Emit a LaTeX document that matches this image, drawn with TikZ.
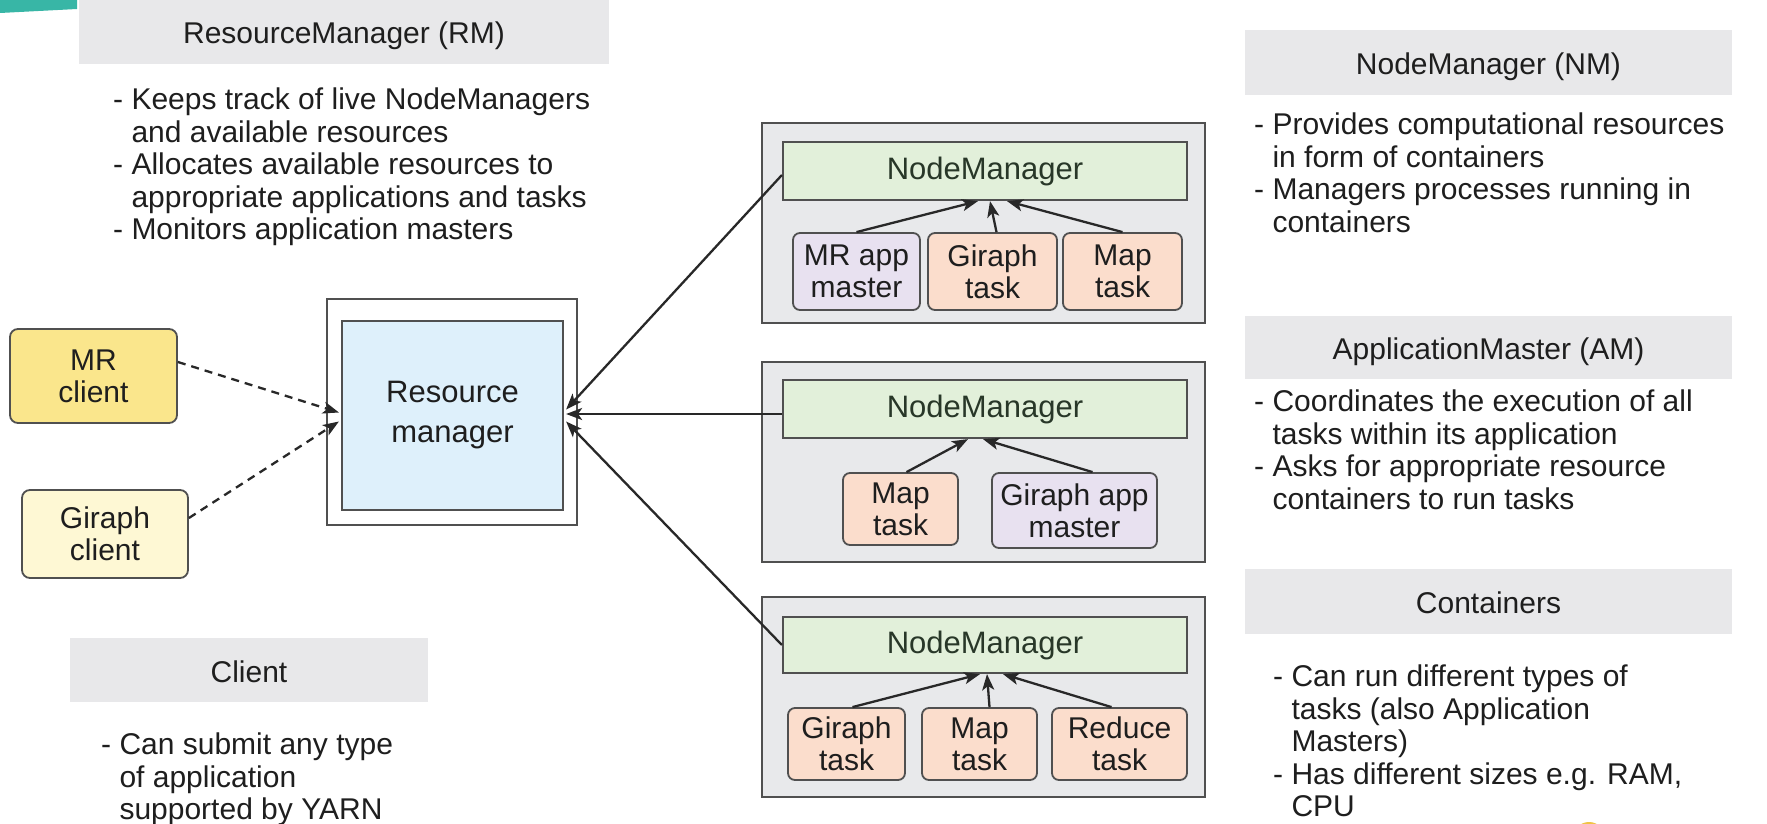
\documentclass[tikz,border=0pt]{standalone}
\usepackage{fontspec}
\setmainfont{Liberation Sans}
\usetikzlibrary{arrows.meta,calc}
\definecolor{hdrgray}{RGB}{232,232,234}
\definecolor{contgray}{RGB}{232,233,235}
\definecolor{bdr}{RGB}{80,80,80}
\definecolor{txt}{RGB}{30,30,30}
\definecolor{nmgreen}{RGB}{226,240,218}
\definecolor{nmtxt}{RGB}{40,55,40}
\definecolor{peach}{RGB}{251,221,204}
\definecolor{lavender}{RGB}{232,225,240}
\definecolor{mryellow}{RGB}{250,230,140}
\definecolor{gryellow}{RGB}{254,248,212}
\definecolor{rmblue}{RGB}{222,240,251}
\definecolor{tealdeco}{RGB}{56,182,166}
\definecolor{orangedeco}{RGB}{240,195,70}
\definecolor{arrcol}{RGB}{40,40,40}
\begin{document}
\begin{tikzpicture}[x=1pt,y=-1pt,
  hdr/.style={fill=hdrgray, inner sep=0, text height=24pt, text depth=0pt, font=\fontsize{30}{33}\selectfont, text=txt},
  bul/.style={anchor=north west, inner sep=0, align=left, font=\fontsize{30}{32.5}\selectfont, text=txt},
  cont/.style={draw=bdr, line width=2.2pt, fill=contgray, inner sep=0},
  nmbox/.style={draw=bdr, line width=2.2pt, fill=nmgreen, inner sep=0, font=\fontsize{31}{33}\selectfont, text=nmtxt},
  task/.style={draw=bdr, line width=1.8pt, rounded corners=7pt, fill=peach, inner sep=0, align=center, font=\fontsize{30}{32}\selectfont, text=txt},
  amst/.style={task, fill=lavender},
  client/.style={draw=bdr, line width=1.8pt, rounded corners=8pt, align=center, inner sep=0, font=\fontsize{30}{32}\selectfont, text=txt},
  arr/.style={-{Stealth[length=16pt,width=12pt,inset=4pt]}, line width=2.3pt, draw=arrcol},
  darr/.style={arr, dash pattern=on 8pt off 6pt}
]
\useasboundingbox (0,0) rectangle (1767,824);
\fill[white] (0,0) rectangle (1767,824);
% decorations
\fill[tealdeco] (0,0) -- (77,0) -- (77,9) -- (0,13) -- cycle;
\fill[orangedeco] (1589,838) circle (16);

% headers
\node[hdr, minimum width=530, minimum height=64] (hrm) at (344,32) {ResourceManager (RM)};
\node[hdr, minimum width=487, minimum height=65] (hnm) at (1488.5,62.5) {NodeManager (NM)};
\node[hdr, minimum width=487, minimum height=63] (ham) at (1488.5,347.5) {ApplicationMaster (AM)};
\node[hdr, minimum width=487, minimum height=65] (hco) at (1488.5,601.5) {Containers};
\node[hdr, minimum width=358, minimum height=64] (hcl) at (249,670) {Client};

% bullet texts
\node[bul] (brm) at (113,88) {- Keeps track of live NodeManagers\\\hphantom{- }and available resources\\- Allocates available resources to\\\hphantom{- }appropriate applications and tasks\\- Monitors application masters};
\node[bul] (bnm) at (1254,113) {- Provides computational resources\\\hphantom{- }in form of containers\\- Managers processes running in\\\hphantom{- }containers};
\node[bul] (bam) at (1254,390) {- Coordinates the execution of all\\\hphantom{- }tasks within its application\\- Asks for appropriate resource\\\hphantom{- }containers to run tasks};
\node[bul] (bco) at (1273,665) {- Can run different types of\\\hphantom{- }tasks (also Application\\\hphantom{- }Masters)\\- Has different sizes e.g. RAM,\\\hphantom{- }CPU};
\node[bul] (bcl) at (101,733) {- Can submit any type\\\hphantom{- }of application\\\hphantom{- }supported by YARN};

% clients
\node[client, fill=mryellow, minimum width=167, minimum height=94] (mr) at (93.5,376) {MR\\client};
\node[client, fill=gryellow, minimum width=166, minimum height=88] (gc) at (105,534) {Giraph\\client};

% resource manager
\node[draw=bdr, line width=2.2pt, fill=white, minimum width=250, minimum height=226, inner sep=0] (rmo) at (452,412) {};
\node[draw=bdr, line width=2.2pt, fill=rmblue, minimum width=221, minimum height=189, inner sep=0, align=center, font=\fontsize{31}{40}\selectfont, text=txt] (rm) at (452.5,415.5) {Resource\\manager};

% container boxes
\node[cont, minimum width=443, minimum height=200] (c1) at (983.5,223) {};
\node[cont, minimum width=443, minimum height=200] (c2) at (983.5,462) {};
\node[cont, minimum width=443, minimum height=200] (c3) at (983.5,697) {};

\node[nmbox, minimum width=404, minimum height=58] (nm1) at (985,171) {NodeManager};
\node[nmbox, minimum width=404, minimum height=58] (nm2) at (985,409) {NodeManager};
\node[nmbox, minimum width=404, minimum height=56] (nm3) at (985,645) {NodeManager};

\node[amst, minimum width=127, minimum height=77] (t11) at (856.5,271.5) {MR app\\master};
\node[task, minimum width=129, minimum height=77] (t12) at (992.5,271.5) {Giraph\\task};
\node[task, minimum width=119, minimum height=77] (t13) at (1122.5,271.5) {Map\\task};

\node[task, minimum width=115, minimum height=72] (t21) at (900.5,509) {Map\\task};
\node[amst, minimum width=165, minimum height=75] (t22) at (1074.5,510.5) {Giraph app\\master};

\node[task, minimum width=117, minimum height=72] (t31) at (846.5,744) {Giraph\\task};
\node[task, minimum width=115, minimum height=72] (t32) at (979.5,744) {Map\\task};
\node[task, minimum width=135, minimum height=72] (t33) at (1119.5,744) {Reduce\\task};

% internal arrows
\draw[arr] (t11.north) -- ($(nm1.south)+(-7,0)$);
\draw[arr] ($(t12.north)+(4,0)$) -- ($(nm1.south)+(5,0)$);
\draw[arr] (t13.north) -- ($(nm1.south)+(22,0)$);
\draw[arr] ($(t21.north)+(6,0)$) -- ($(nm2.south)+(-17,0)$);
\draw[arr] ($(t22.north)+(18,0)$) -- ($(nm2.south)+(-2,0)$);
\draw[arr] ($(t31.north)+(6,0)$) -- ($(nm3.south)+(-5,0)$);
\draw[arr] ($(t32.north)+(10,0)$) -- ($(nm3.south)+(2,0)$);
\draw[arr] ($(t33.north)+(-8,0)$) -- ($(nm3.south)+(18,0)$);

% to resource manager
\draw[arr] ($(nm1.west)+(0,4)$) -- ($(rm.east)+(2,-6)$);
\draw[arr] ($(nm2.west)+(0,5)$) -- ($(nm2.west -| rm.east)+(2,5)$);
\draw[arr] (nm3.west) -- ($(rm.east)+(2,6)$);

% clients to RM
\draw[darr] ($(mr.east)+(0,-14)$) -- ($(rm.west)+(-2,-3)$);
\draw[darr] ($(gc.east)+(0,-16)$) -- ($(rm.west)+(-2,6)$);
\end{tikzpicture}
\end{document}
